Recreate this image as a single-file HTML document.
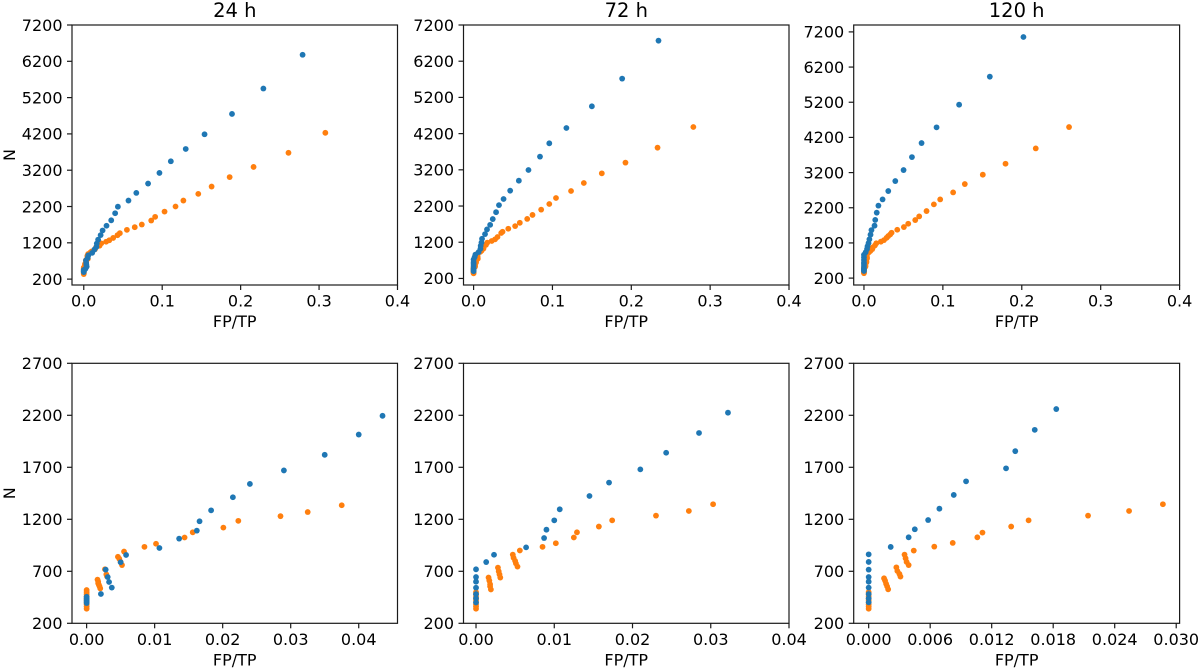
<!DOCTYPE html>
<html lang="en">
<head>
<meta charset="utf-8">
<title>FP/TP versus N at 24 h, 72 h and 120 h</title>
<style>
html,body{margin:0;padding:0;background:#fff;width:1200px;height:668px;overflow:hidden}
svg{display:block}
text{font-family:"DejaVu Sans","Liberation Sans",sans-serif;fill:#000}
</style>
</head>
<body>
<svg id="figure" xmlns="http://www.w3.org/2000/svg" width="1200" height="668" viewBox="0 0 1200 668"></svg>
<script>
// Chart values
const panelTitles = ['24 h', '72 h', '120 h'];
const topYTicks = [200, 1200, 2200, 3200, 4200, 5200, 6200, 7200];
const bottomYTicks = [200, 700, 1200, 1700, 2200, 2700];
const topXTickLabels = ['0.0', '0.1', '0.2', '0.3', '0.4'];
const bottomXTickLabels24 = ['0.00', '0.01', '0.02', '0.03', '0.04'];
const bottomXTickLabels72 = ['0.00', '0.01', '0.02', '0.03', '0.04'];
const bottomXTickLabels120 = ['0.000', '0.006', '0.012', '0.018', '0.024', '0.030'];

// Axis ranges
const topXRange24 = [-0.015, 0.4];
const topXRange72 = [-0.0128, 0.4];
const topXRange120 = [-0.013, 0.4];
const topYRange24 = [38, 7200];
const topYRange72 = [19, 7200];
const topYRange120 = [4, 7396];
const bottomXRange24 = [-0.00215, 0.0457];
const bottomXRange72 = [-0.0016, 0.04];
const bottomXRange120 = [-0.00146, 0.03033];
const bottomYRange = [200, 2700];
const blueZoomLimit = 2300;
const orangeZoomLimit = 1360;

// 24 h series
const blue24FP = [0,0,0,0,0,0.0021,0.0028,0.0031,0.0033,0.0037,0.005,0.0058,0.0107,0.0136,0.0162,0.0166,0.0183,0.0215,0.024,0.029,0.035,0.040,0.0435,0.057,0.067,0.082,0.0965,0.111,0.13,0.154,0.189,0.229,0.279];
const blue24N = [395,410,425,440,455,482,716,645,597,543,787,857,924,1014,1091,1181,1286,1412,1540,1670,1820,2015,2195,2364,2575,2832,3125,3446,3785,4190,4750,5450,6380];
const orange24FP = [0,0,0,0,0,0,0,0,0,0,0.0016,0.0017,0.0017,0.0018,0.0019,0.002,0.0027,0.0029,0.003,0.0046,0.0048,0.005,0.0052,0.0055,0.0085,0.0102,0.0144,0.0156,0.0201,0.0223,0.0285,0.0325,0.0375,0.043,0.046,0.055,0.065,0.074,0.086,0.091,0.103,0.117,0.127,0.146,0.163,0.186,0.2165,0.261,0.308];
const orange24N = [340,360,380,400,420,440,460,480,500,520,620,600,585,570,555,535,720,670,650,840,820,790,760,890,935,965,1025,1075,1120,1185,1230,1270,1335,1410,1465,1557,1630,1704,1814,1915,2060,2200,2364,2548,2750,3010,3290,3680,4230];

// 72 h series
const blue72FP = [0,0,0,0,0,0,0,0.0013,0.0023,0.0064,0.0087,0.009,0.01,0.0107,0.0145,0.017,0.021,0.0243,0.0285,0.0322,0.038,0.0464,0.0574,0.0696,0.0842,0.096,0.1177,0.150,0.1884,0.2345];
const blue72N = [400,440,481,542,600,645,719,789,859,930,1020,1100,1190,1296,1424,1553,1680,1840,2030,2225,2394,2624,2900,3195,3564,3932,4355,4954,5718,6767];
const orange72FP = [0,0,0,0,0,0,0,0,0,0.0016,0.0017,0.0018,0.0018,0.0019,0.0028,0.0029,0.003,0.0031,0.0047,0.0048,0.005,0.0051,0.0053,0.0056,0.0085,0.0102,0.0125,0.0129,0.0157,0.0174,0.023,0.0272,0.0303,0.035,0.0367,0.044,0.0527,0.0586,0.068,0.0747,0.0857,0.096,0.1045,0.1236,0.1398,0.1626,0.1926,0.2333,0.2787];
const orange72N = [340,360,380,400,420,440,460,480,500,640,610,575,555,525,735,700,670,640,860,830,800,775,745,900,935,970,1025,1075,1130,1190,1235,1280,1345,1455,1490,1573,1645,1736,1845,1954,2100,2256,2422,2615,2836,3103,3398,3812,4383];

// 120 h series
const blue120FP = [0,0,0,0,0,0,0,0,0,0.00215,0.0039,0.0045,0.0058,0.0069,0.0083,0.0095,0.0134,0.0143,0.0162,0.0183,0.0236,0.0308,0.0397,0.0502,0.0608,0.073,0.092,0.1206,0.1595,0.2021];
const blue120N = [402,440,482,543,600,645,716,790,863,934,1027,1104,1193,1302,1434,1565,1690,1855,2060,2260,2438,2675,2959,3272,3640,4040,4486,5130,5927,7055];
const orange120FP = [0,0,0,0,0,0,0,0,0,0.0015,0.0016,0.0017,0.0018,0.0019,0.0027,0.0028,0.003,0.0031,0.0035,0.0036,0.0037,0.0039,0.0044,0.0064,0.0082,0.0106,0.0111,0.0139,0.0156,0.0214,0.0254,0.0287,0.0308,0.0333,0.035,0.0422,0.0506,0.0561,0.065,0.07,0.0793,0.0886,0.0966,0.113,0.1278,0.1506,0.1794,0.2177,0.2599];
const orange120N = [340,360,380,400,420,440,460,480,500,633,610,580,555,527,738,703,675,649,860,825,790,760,899,937,973,1027,1072,1130,1190,1235,1280,1345,1395,1442,1490,1575,1651,1746,1850,1954,2106,2296,2438,2637,2874,3140,3452,3888,4495];

// Drawing
const NS = 'http://www.w3.org/2000/svg';
const svg = document.getElementById('figure');
const BLUE = '#1f77b4';
const ORANGE = '#ff7f0e';
const INK = '#1a1a1a';

function node(tag, attrs, parent) {
  const el = document.createElementNS(NS, tag);
  for (const k in attrs) el.setAttribute(k, attrs[k]);
  parent.appendChild(el);
  return el;
}
function linear(domain, range) {
  return v => range[0] + (v - domain[0]) * (range[1] - range[0]) / (domain[1] - domain[0]);
}
function drawSeries(group, xs, ys, xScale, yScale, color, name, limit) {
  for (let i = 0; i < xs.length; i++) {
    if (ys[i] > limit) continue;
    const c = node('circle', { cx: xScale(xs[i]).toFixed(2), cy: yScale(ys[i]).toFixed(2), r: 2.9, fill: color }, group);
    
    
  }
}
function drawPanel(p) {
  const g = node('g', {}, svg);
  
  
  const x = linear(p.xRange, [p.left, p.right]);
  const y = linear(p.yRange, [p.bottom, p.top]);

  drawSeries(g, p.orangeX, p.orangeY, x, y, ORANGE, 'orange-point', p.orangeLimit);
  drawSeries(g, p.blueX, p.blueY, x, y, BLUE, 'blue-point', p.blueLimit);

  const frame = node('rect', { x: p.left, y: p.top, width: p.right - p.left, height: p.bottom - p.top, fill: 'none', stroke: INK, 'stroke-width': 1.2 }, g);
  
  

  p.xLabels.forEach(label => {
    const px = x(parseFloat(label));
    const tick = node('line', { x1: px, x2: px, y1: p.bottom, y2: p.bottom + 5, stroke: INK, 'stroke-width': 1.2 }, g);
    
    
    const t = node('text', { x: px, y: p.bottom + 21.6, 'text-anchor': 'middle', 'font-size': 16 }, g);
    
    
    t.textContent = label;
  });
  p.yTicks.forEach(v => {
    const py = y(v);
    const tick = node('line', { x1: p.left - 5, x2: p.left, y1: py, y2: py, stroke: INK, 'stroke-width': 1.2 }, g);
    
    
    const t = node('text', { x: p.left - 9.5, y: py + 5.8, 'text-anchor': 'end', 'font-size': 16 }, g);
    
    
    t.textContent = v;
  });

  const mid = (p.left + p.right) / 2;
  const xt = node('text', { x: mid, y: p.bottom + 42, 'text-anchor': 'middle', 'font-size': 16 }, g);
  
  
  xt.textContent = 'FP/TP';

  if (p.title) {
    const tt = node('text', { x: mid, y: 17, 'text-anchor': 'middle', 'font-size': 19.5 }, g);
    
    
    tt.textContent = p.title;
  }
  if (p.yTitle) {
    const cy = (p.top + p.bottom) / 2;
    const yt = node('text', { x: 0, y: 0, transform: 'translate(15.2,' + cy + ') rotate(-90)', 'text-anchor': 'middle', 'font-size': 16 }, g);
    
    
    yt.textContent = 'N';
  }
}

const columns = [[72, 397.5], [463.5, 789], [853.7, 1179.6]];
const topRanges = [[topXRange24, topYRange24], [topXRange72, topYRange72], [topXRange120, topYRange120]];
const bottomXRanges = [bottomXRange24, bottomXRange72, bottomXRange120];
const bottomLabels = [bottomXTickLabels24, bottomXTickLabels72, bottomXTickLabels120];
const blueXs = [blue24FP, blue72FP, blue120FP];
const blueYs = [blue24N, blue72N, blue120N];
const orangeXs = [orange24FP, orange72FP, orange120FP];
const orangeYs = [orange24N, orange72N, orange120N];
const slugs = ['24h', '72h', '120h'];

columns.forEach((col, i) => {
  drawPanel({
    name: 'overview-panel-' + slugs[i], title: panelTitles[i], yTitle: i === 0,
    left: col[0], right: col[1], top: 25, bottom: 285,
    xRange: topRanges[i][0], yRange: topRanges[i][1],
    xLabels: topXTickLabels, yTicks: topYTicks,
    blueX: blueXs[i], blueY: blueYs[i], orangeX: orangeXs[i], orangeY: orangeYs[i],
    blueLimit: Infinity, orangeLimit: Infinity
  });
  drawPanel({
    name: 'zoomed-panel-' + slugs[i], title: '', yTitle: i === 0,
    left: col[0], right: col[1], top: 363.3, bottom: 623.3,
    xRange: bottomXRanges[i], yRange: bottomYRange,
    xLabels: bottomLabels[i], yTicks: bottomYTicks,
    blueX: blueXs[i], blueY: blueYs[i], orangeX: orangeXs[i], orangeY: orangeYs[i],
    blueLimit: blueZoomLimit, orangeLimit: orangeZoomLimit
  });
});
</script>
</body>
</html>
